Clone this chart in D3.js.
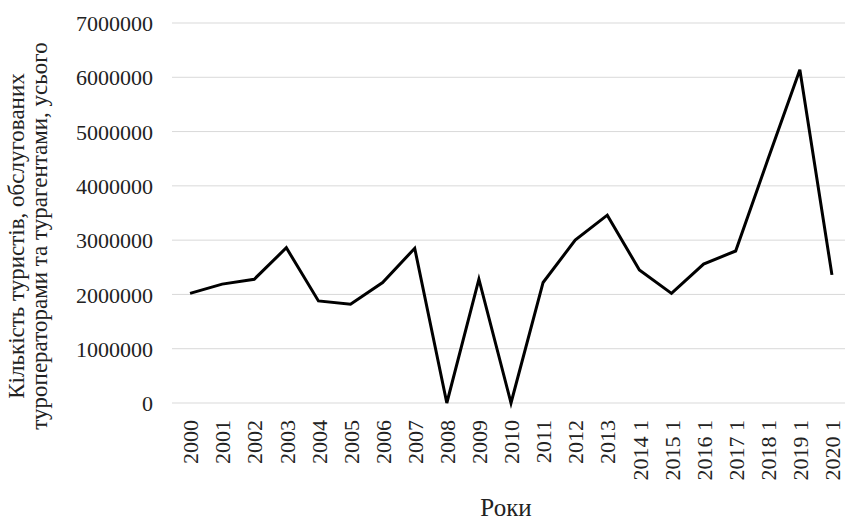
<!DOCTYPE html>
<html>
<head>
<meta charset="utf-8">
<script src="https://cdn.jsdelivr.net/npm/d3@7"></script>
<style>
  body { margin: 0; background: #fff; }
  svg text { font-family: "Liberation Serif", "Times New Roman", serif; fill: #222; }
</style>
</head>
<body>
<svg width="845" height="523"></svg>
<script>
// years and tick labels as printed in the source
const years = ['2000','2001','2002','2003','2004','2005','2006','2007','2008','2009','2010',
  '2011','2012','2013','2014 1','2015 1','2016 1','2017 1','2018 1','2019 1','2020 1'];
// tourists served by tour operators and travel agents, total
const tourists = [2020000, 2190000, 2280000, 2860000, 1880000, 1820000, 2220000, 2850000, 0, 2280000, 0,
  2220000, 3000000, 3460000, 2450000, 2020000, 2560000, 2800000, 4480000, 6140000, 2360000];
const yTicks = [0, 1000000, 2000000, 3000000, 4000000, 5000000, 6000000, 7000000];

const svg = d3.select('svg');
const plotLeft = 174, plotRight = 848, plotTop = 23, plotBottom = 403;

const x = d3.scalePoint().domain(years).range([plotLeft, plotRight]).padding(0.5);
const y = d3.scaleLinear().domain([0, 7000000]).range([plotBottom, plotTop]);

// gridlines
svg.append('g')
  .selectAll('line')
  .data(yTicks)
  .join('line')
    .attr('x1', plotLeft - 2)
    .attr('x2', plotRight)
    .attr('y1', d => y(d))
    .attr('y2', d => y(d))
    .attr('stroke', '#d9d9d9')
    .attr('stroke-width', 1);

// y axis labels
const yAxis = svg.append('g')
  .attr('transform', 'translate(' + (plotLeft - 21) + ',0)')
  .call(d3.axisLeft(y).tickValues(yTicks).tickFormat(d3.format('d')).tickSize(0).tickPadding(0));
yAxis.select('.domain').remove();
yAxis.selectAll('text')
  .attr('text-anchor', 'end')
  .style('font-size', '22px')
  .attr('dy', '0.35em');

// x axis labels
const xAxis = svg.append('g')
  .attr('transform', 'translate(0,' + (plotBottom + 17) + ')')
  .call(d3.axisBottom(x).tickSize(0).tickPadding(0));
xAxis.select('.domain').remove();
xAxis.selectAll('text')
  .style('font-size', '22px')
  .attr('text-anchor', 'end')
  .attr('transform', 'rotate(-90)')
  .attr('x', 0)
  .attr('y', 0)
  .attr('dy', '0.35em');

// line
const line = d3.line()
  .x((d, i) => x(years[i]))
  .y(d => y(d));

svg.append('path')
  .datum(tourists)
  .attr('d', line)
  .attr('fill', 'none')
  .attr('stroke', '#000')
  .attr('stroke-width', 3)
  .attr('stroke-linejoin', 'miter');

// axis titles
svg.append('text')
  .attr('x', 506)
  .attr('y', 516)
  .attr('text-anchor', 'middle')
  .style('font-size', '25px')
  .text('Роки');

const yTitle = svg.append('text')
  .attr('transform', 'translate(24,236) rotate(-90)')
  .attr('text-anchor', 'middle')
  .style('font-size', '23px');
yTitle.append('tspan').attr('x', 0).attr('dy', 0).text('Кількість туристів, обслугованих');
yTitle.append('tspan').attr('x', 0).attr('dy', '0.98em').text('туроператорами та турагентами, усього');
</script>
</body>
</html>
